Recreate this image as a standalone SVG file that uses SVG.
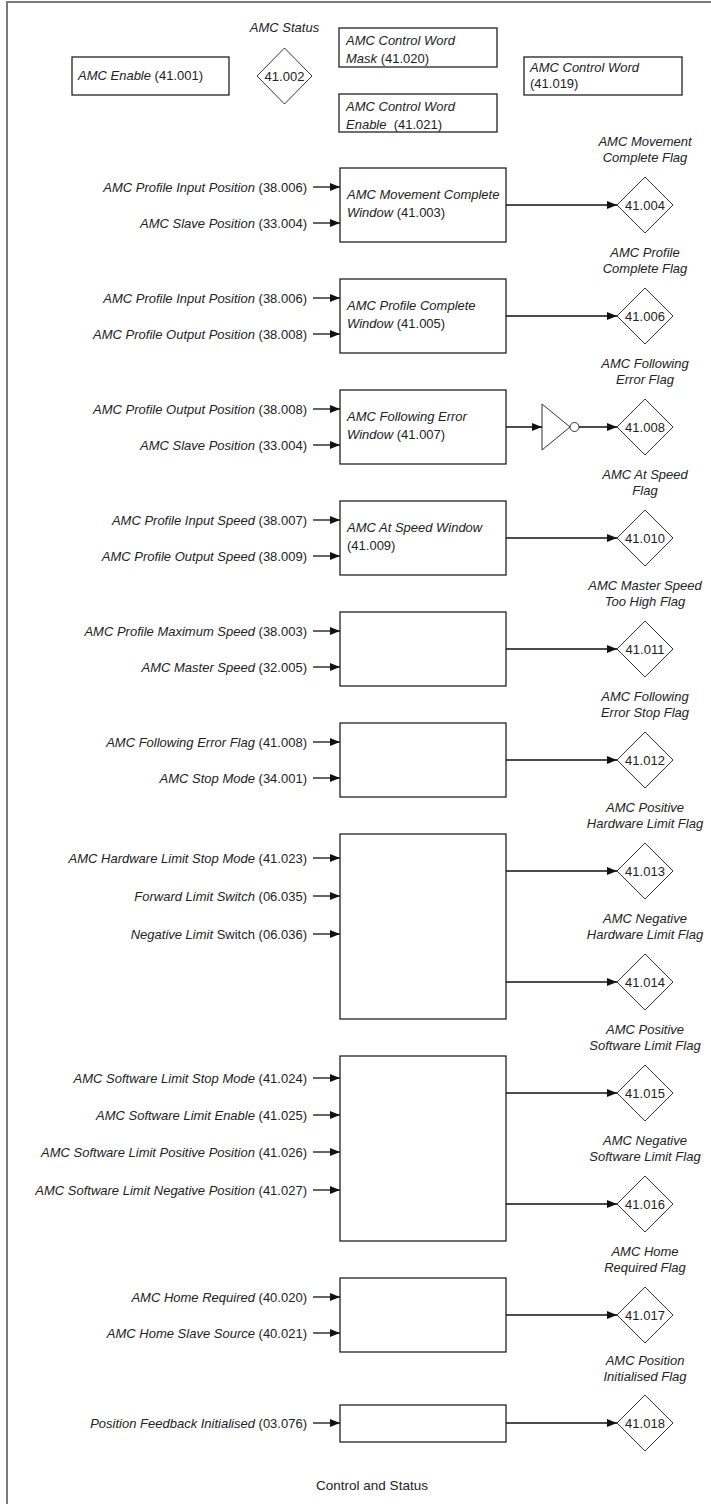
<svg xmlns="http://www.w3.org/2000/svg" width="711" height="1504" viewBox="0 0 711 1504">
<defs>
<style>
text{font-family:"Liberation Sans",Arial,sans-serif;font-size:13px;fill:#222}
.i{font-style:italic}
.e{text-anchor:end}
.m{text-anchor:middle}
.box{fill:#fff;stroke:#222;stroke-width:1.3}
.dia{fill:#fff;stroke:#333;stroke-width:1}
.ln{fill:none;stroke:#111;stroke-width:1.3}
.frame{fill:none;stroke:#7a7a7a;stroke-width:2}
</style>
<marker id="ah" markerUnits="userSpaceOnUse" markerWidth="10" markerHeight="8" refX="10" refY="4" orient="auto">
<path d="M0,0 L10,4 L0,8 z" fill="#111"/>
</marker>
</defs>
<rect width="711" height="1504" fill="#fff"/>
<path class="frame" d="M7,1504 V2 H711"/>

<g id="amc-enable"><rect class="box" x="72" y="57" width="157" height="38"/><text x="78" y="80"><tspan class="i">AMC Enable</tspan> (41.001)</text></g>
<g id="amc-status"><text class="i m" x="284.5" y="32">AMC Status</text><polygon class="dia" points="257,76 284.5,48 312,76 284.5,104"/><text class="m" x="284.5" y="80.5">41.002</text></g>
<g id="cw-mask"><rect class="box" x="339" y="28" width="158" height="39"/><text class="i" x="346" y="45">AMC Control Word</text><text x="346" y="63"><tspan class="i">Mask</tspan> (41.020)</text></g>
<g id="cw-enable"><rect class="box" x="339" y="94" width="158" height="38"/><text class="i" x="346" y="111">AMC Control Word</text><text x="346" y="129" xml:space="preserve"><tspan class="i">Enable</tspan>  (41.021)</text></g>
<g id="cw"><rect class="box" x="524" y="57" width="158" height="38"/><text class="i" x="530" y="72">AMC Control Word</text><text x="530" y="88">(41.019)</text></g>

<g id="s1">
<rect class="box" x="340" y="168" width="166" height="74"/>
<text class="i" x="347" y="199">AMC Movement Complete</text><text x="347" y="217"><tspan class="i">Window</tspan> (41.003)</text>
<text class="e" x="307" y="191.5"><tspan class="i">AMC Profile Input Position</tspan> (38.006)</text>
<text class="e" x="307" y="227.5"><tspan class="i">AMC Slave Position</tspan> (33.004)</text>
</g>
<g id="f1"><text class="i m" x="645" y="146">AMC Movement</text><text class="i m" x="645" y="162">Complete Flag</text><polygon class="dia" points="617,205 645,177 673,205 645,233"/><text class="m" x="645" y="209.5">41.004</text></g>

<g id="s2">
<rect class="box" x="340" y="279" width="166" height="74"/>
<text class="i" x="347" y="310">AMC Profile Complete</text><text x="347" y="328"><tspan class="i">Window</tspan> (41.005)</text>
<text class="e" x="307" y="302.5"><tspan class="i">AMC Profile Input Position</tspan> (38.006)</text>
<text class="e" x="307" y="338.5"><tspan class="i">AMC Profile Output Position</tspan> (38.008)</text>
</g>
<g id="f2"><text class="i m" x="645" y="257">AMC Profile</text><text class="i m" x="645" y="273">Complete Flag</text><polygon class="dia" points="617,316 645,288 673,316 645,344"/><text class="m" x="645" y="320.5">41.006</text></g>

<g id="s3">
<rect class="box" x="340" y="390" width="166" height="74"/>
<text class="i" x="347" y="421">AMC Following Error</text><text x="347" y="439"><tspan class="i">Window</tspan> (41.007)</text>
<text class="e" x="307" y="413.5"><tspan class="i">AMC Profile Output Position</tspan> (38.008)</text>
<text class="e" x="307" y="449.5"><tspan class="i">AMC Slave Position</tspan> (33.004)</text>
</g>
<g id="not-gate"><polygon class="dia" points="542,404 570,427 542,450"/><circle class="dia" cx="574.5" cy="427" r="4.5"/></g>
<g id="f3"><text class="i m" x="645" y="368">AMC Following</text><text class="i m" x="645" y="384">Error Flag</text><polygon class="dia" points="617,427 645,399 673,427 645,455"/><text class="m" x="645" y="431.5">41.008</text></g>

<g id="s4">
<rect class="box" x="340" y="501" width="166" height="74"/>
<text class="i" x="347" y="532">AMC At Speed Window</text><text x="347" y="550">(41.009)</text>
<text class="e" x="307" y="524.5"><tspan class="i">AMC Profile Input Speed</tspan> (38.007)</text>
<text class="e" x="307" y="560.5"><tspan class="i">AMC Profile Output Speed</tspan> (38.009)</text>
</g>
<g id="f4"><text class="i m" x="645" y="479">AMC At Speed</text><text class="i m" x="645" y="495">Flag</text><polygon class="dia" points="617,538 645,510 673,538 645,566"/><text class="m" x="645" y="542.5">41.010</text></g>

<g id="s5">
<rect class="box" x="340" y="612" width="166" height="74"/>
<text class="e" x="307" y="635.5"><tspan class="i">AMC Profile Maximum Speed</tspan> (38.003)</text>
<text class="e" x="307" y="671.5"><tspan class="i">AMC Master Speed</tspan> (32.005)</text>
</g>
<g id="f5"><text class="i m" x="645" y="590">AMC Master Speed</text><text class="i m" x="645" y="606">Too High Flag</text><polygon class="dia" points="617,649 645,621 673,649 645,677"/><text class="m" x="645" y="653.5">41.011</text></g>

<g id="s6">
<rect class="box" x="340" y="723" width="166" height="74"/>
<text class="e" x="307" y="746.5"><tspan class="i">AMC Following Error Flag</tspan> (41.008)</text>
<text class="e" x="307" y="782.5"><tspan class="i">AMC Stop Mode</tspan> (34.001)</text>
</g>
<g id="f6"><text class="i m" x="645" y="701">AMC Following</text><text class="i m" x="645" y="717">Error Stop Flag</text><polygon class="dia" points="617,760 645,732 673,760 645,788"/><text class="m" x="645" y="764.5">41.012</text></g>

<g id="s7">
<rect class="box" x="340" y="834" width="166" height="185"/>
<text class="e" x="307" y="862.5"><tspan class="i">AMC Hardware Limit Stop Mode</tspan> (41.023)</text>
<text class="e" x="307" y="900.5"><tspan class="i">Forward Limit Switch</tspan> (06.035)</text>
<text class="e" x="307" y="938.5"><tspan class="i">Negative Limit</tspan> Switch (06.036)</text>
</g>
<g id="f7"><text class="i m" x="645" y="812">AMC Positive</text><text class="i m" x="645" y="828">Hardware Limit Flag</text><polygon class="dia" points="617,871 645,843 673,871 645,899"/><text class="m" x="645" y="875.5">41.013</text></g>
<g id="f8"><text class="i m" x="645" y="923">AMC Negative</text><text class="i m" x="645" y="939">Hardware Limit Flag</text><polygon class="dia" points="617,982 645,954 673,982 645,1010"/><text class="m" x="645" y="986.5">41.014</text></g>

<g id="s8">
<rect class="box" x="340" y="1056" width="166" height="185"/>
<text class="e" x="307" y="1082.5"><tspan class="i">AMC Software Limit Stop Mode</tspan> (41.024)</text>
<text class="e" x="307" y="1119.5"><tspan class="i">AMC Software Limit Enable</tspan> (41.025)</text>
<text class="e" x="307" y="1156.5"><tspan class="i">AMC Software Limit Positive Position</tspan> (41.026)</text>
<text class="e" x="307" y="1194.5"><tspan class="i">AMC Software Limit Negative Position</tspan> (41.027)</text>
</g>
<g id="f9"><text class="i m" x="645" y="1034">AMC Positive</text><text class="i m" x="645" y="1050">Software Limit Flag</text><polygon class="dia" points="617,1093 645,1065 673,1093 645,1121"/><text class="m" x="645" y="1097.5">41.015</text></g>
<g id="f10"><text class="i m" x="645" y="1145">AMC Negative</text><text class="i m" x="645" y="1161">Software Limit Flag</text><polygon class="dia" points="617,1204 645,1176 673,1204 645,1232"/><text class="m" x="645" y="1208.5">41.016</text></g>

<g id="s9">
<rect class="box" x="340" y="1278" width="166" height="74"/>
<text class="e" x="307" y="1301.5"><tspan class="i">AMC Home Required</tspan> (40.020)</text>
<text class="e" x="307" y="1337.5"><tspan class="i">AMC Home Slave Source</tspan> (40.021)</text>
</g>
<g id="f11"><text class="i m" x="645" y="1256">AMC Home</text><text class="i m" x="645" y="1272">Required Flag</text><polygon class="dia" points="617,1315 645,1287 673,1315 645,1343"/><text class="m" x="645" y="1319.5">41.017</text></g>

<g id="s10">
<rect class="box" x="340" y="1405" width="166" height="37"/>
<text class="e" x="307" y="1427.5"><tspan class="i">Position Feedback Initialised</tspan> (03.076)</text>
</g>
<g id="f12"><text class="i m" x="645" y="1365">AMC Position</text><text class="i m" x="645" y="1381">Initialised Flag</text><polygon class="dia" points="617,1423 645,1395 673,1423 645,1451"/><text class="m" x="645" y="1427.5">41.018</text></g>

<text id="title" class="m" x="372" y="1490" style="font-size:13.5px">Control and Status</text>

<g id="connectors">
<line class="ln" marker-end="url(#ah)" x1="313" y1="187" x2="340" y2="187"/>
<line class="ln" marker-end="url(#ah)" x1="313" y1="223" x2="340" y2="223"/>
<line class="ln" marker-end="url(#ah)" x1="506" y1="205" x2="617" y2="205"/>
<line class="ln" marker-end="url(#ah)" x1="313" y1="298" x2="340" y2="298"/>
<line class="ln" marker-end="url(#ah)" x1="313" y1="334" x2="340" y2="334"/>
<line class="ln" marker-end="url(#ah)" x1="506" y1="316" x2="617" y2="316"/>
<line class="ln" marker-end="url(#ah)" x1="313" y1="409" x2="340" y2="409"/>
<line class="ln" marker-end="url(#ah)" x1="313" y1="445" x2="340" y2="445"/>
<line class="ln" marker-end="url(#ah)" x1="506" y1="427" x2="542" y2="427"/>
<line class="ln" marker-end="url(#ah)" x1="579" y1="427" x2="617" y2="427"/>
<line class="ln" marker-end="url(#ah)" x1="313" y1="520" x2="340" y2="520"/>
<line class="ln" marker-end="url(#ah)" x1="313" y1="556" x2="340" y2="556"/>
<line class="ln" marker-end="url(#ah)" x1="506" y1="538" x2="617" y2="538"/>
<line class="ln" marker-end="url(#ah)" x1="313" y1="631" x2="340" y2="631"/>
<line class="ln" marker-end="url(#ah)" x1="313" y1="667" x2="340" y2="667"/>
<line class="ln" marker-end="url(#ah)" x1="506" y1="649" x2="617" y2="649"/>
<line class="ln" marker-end="url(#ah)" x1="313" y1="742" x2="340" y2="742"/>
<line class="ln" marker-end="url(#ah)" x1="313" y1="778" x2="340" y2="778"/>
<line class="ln" marker-end="url(#ah)" x1="506" y1="760" x2="617" y2="760"/>
<line class="ln" marker-end="url(#ah)" x1="313" y1="858" x2="340" y2="858"/>
<line class="ln" marker-end="url(#ah)" x1="313" y1="896" x2="340" y2="896"/>
<line class="ln" marker-end="url(#ah)" x1="313" y1="934" x2="340" y2="934"/>
<line class="ln" marker-end="url(#ah)" x1="506" y1="871" x2="617" y2="871"/>
<line class="ln" marker-end="url(#ah)" x1="506" y1="982" x2="617" y2="982"/>
<line class="ln" marker-end="url(#ah)" x1="313" y1="1078" x2="340" y2="1078"/>
<line class="ln" marker-end="url(#ah)" x1="313" y1="1115" x2="340" y2="1115"/>
<line class="ln" marker-end="url(#ah)" x1="313" y1="1152" x2="340" y2="1152"/>
<line class="ln" marker-end="url(#ah)" x1="313" y1="1190" x2="340" y2="1190"/>
<line class="ln" marker-end="url(#ah)" x1="506" y1="1093" x2="617" y2="1093"/>
<line class="ln" marker-end="url(#ah)" x1="506" y1="1204" x2="617" y2="1204"/>
<line class="ln" marker-end="url(#ah)" x1="313" y1="1297" x2="340" y2="1297"/>
<line class="ln" marker-end="url(#ah)" x1="313" y1="1333" x2="340" y2="1333"/>
<line class="ln" marker-end="url(#ah)" x1="506" y1="1315" x2="617" y2="1315"/>
<line class="ln" marker-end="url(#ah)" x1="313" y1="1423" x2="340" y2="1423"/>
<line class="ln" marker-end="url(#ah)" x1="506" y1="1423" x2="617" y2="1423"/>
</g>
</svg>
